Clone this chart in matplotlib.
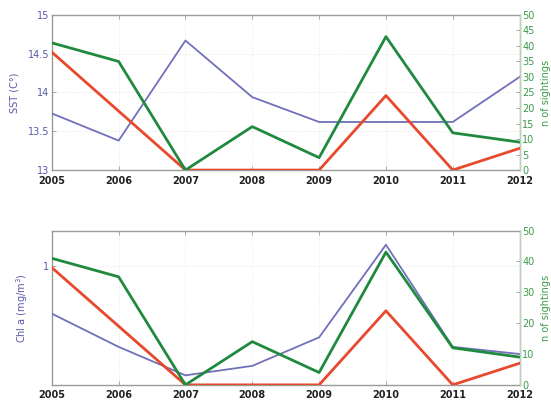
import matplotlib
matplotlib.use("Agg")
import matplotlib.pyplot as plt

years = [2005, 2006, 2007, 2008, 2009, 2010, 2011, 2012]
sst = [13.73, 13.38, 14.67, 13.94, 13.62, 13.62, 13.62, 14.20]
chl = [0.80, 0.66, 0.54, 0.58, 0.70, 1.09, 0.66, 0.63]
sightings_green = [41, 35, 0, 14, 4, 43, 12, 9]
sightings_red = [38, 19, 0, 0, 0, 24, 0, 7]

sst_ticks = [13, 13.5, 14, 14.5, 15]
chl_ticks = [1]
top_right_ticks = list(range(0, 51, 5))
bottom_right_ticks = list(range(0, 51, 10))

BLUE = "#7070bb"
RED = "#e8482c"
GREEN = "#1f8a3e"
LABEL_BLUE = "#5858a8"
LABEL_GREEN = "#3d9a4a"
SPINE = "#9a9a9a"

fig = plt.figure(figsize=(5.51, 4.03), dpi=100)
fig.patch.set_facecolor("white")


def style_axes(ax, left_ticks, ylim, ylabel, ylabel_x):
    ax.set_xlim(years[0], years[-1])
    ax.set_ylim(*ylim)
    ax.set_xticks(years)
    ax.set_xticklabels([str(y) for y in years], fontsize=7, fontweight="bold", color="#222222")
    ax.set_yticks(left_ticks)
    ax.set_yticklabels([("%g" % t) for t in left_ticks], fontsize=7, color=LABEL_BLUE)
    ax.tick_params(axis="both", direction="in", length=3, width=0.6, color=SPINE,
                   top=True, pad=2)
    ax.tick_params(axis="x", pad=4)
    for s in ax.spines.values():
        s.set_color(SPINE)
        s.set_linewidth(1.0)
    ax.grid(True, color="#e4e4e4", linewidth=0.6, linestyle=":")
    ax.set_ylabel(ylabel, fontsize=7, color=LABEL_BLUE)
    ax.yaxis.set_label_coords(ylabel_x, 0.5)


def style_right(ax2, ticks):
    ax2.set_ylim(0, 50)
    ax2.set_yticks(ticks)
    ax2.set_yticklabels([str(t) for t in ticks], fontsize=7, color=LABEL_GREEN)
    ax2.tick_params(axis="y", direction="in", length=3, width=0.6, color=SPINE, pad=2)
    for s in ax2.spines.values():
        s.set_visible(False)
    ax2.spines["right"].set_visible(True)
    ax2.spines["right"].set_color("#b5d6b5")
    ax2.set_ylabel("n of sightings", fontsize=7, color=LABEL_GREEN, rotation=90)
    ax2.yaxis.set_label_coords(1.045, 0.5)


# Upper panel: sea surface temperature
ax1 = fig.add_axes([0.094, 0.578, 0.849, 0.385])
ax1.plot(years, sst, color=BLUE, linewidth=1.3, zorder=3)
style_axes(ax1, sst_ticks, (13, 15), "SST (C°)", -0.07)
ax1b = ax1.twinx()
ax1b.plot(years, sightings_red, color=RED, linewidth=2.0)
ax1b.plot(years, sightings_green, color=GREEN, linewidth=2.0)
style_right(ax1b, top_right_ticks)

# Lower panel: chlorophyll a
ax2 = fig.add_axes([0.094, 0.045, 0.849, 0.383])
ax2.plot(years, chl, color=BLUE, linewidth=1.3, zorder=3)
style_axes(ax2, chl_ticks, (0.5, 1.15), "Chl a (mg/m$^3$)", -0.047)
ax2b = ax2.twinx()
ax2b.plot(years, sightings_red, color=RED, linewidth=2.0)
ax2b.plot(years, sightings_green, color=GREEN, linewidth=2.0)
style_right(ax2b, bottom_right_ticks)

fig.savefig("out.png", dpi=100, facecolor="white")
